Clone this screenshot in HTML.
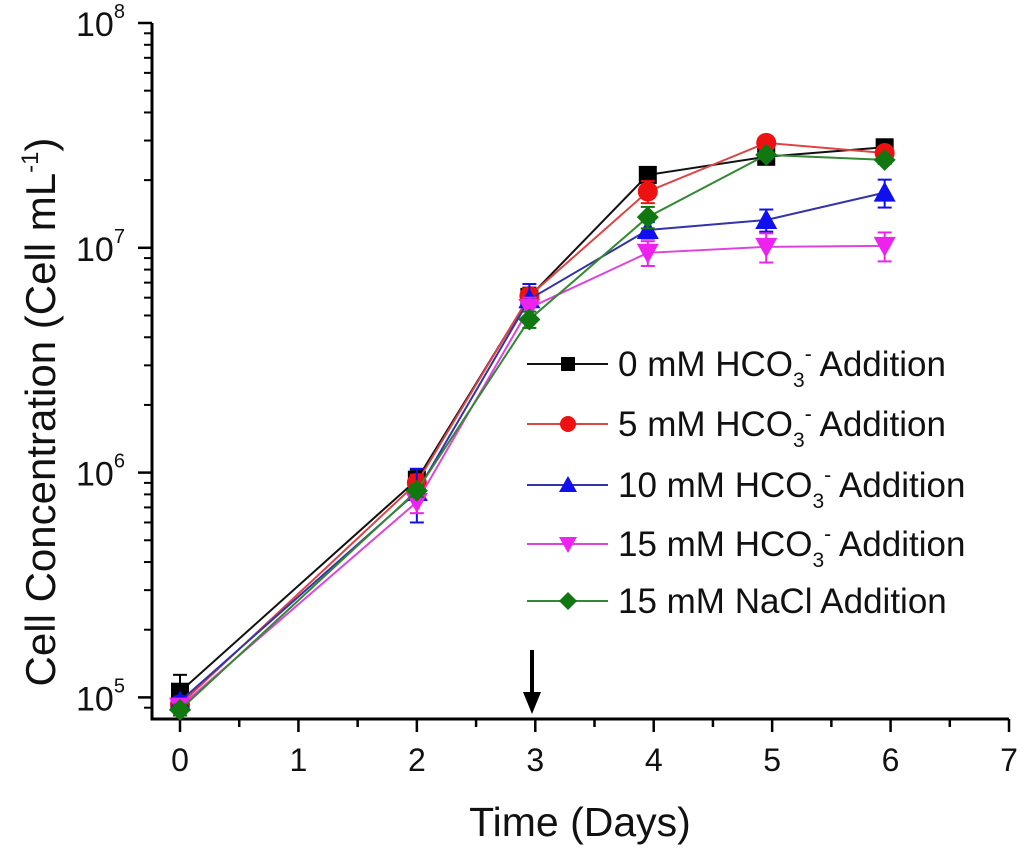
<!DOCTYPE html>
<html><head><meta charset="utf-8"><style>
html,body{margin:0;padding:0;background:#fff;}
svg{display:block;font-family:"Liberation Sans",Arial,sans-serif;}
</style></head><body>
<svg id="chart" width="1024" height="851" viewBox="0 0 1024 851" xmlns="http://www.w3.org/2000/svg">
<g id="axes"></g>
<g id="series"></g>
<g id="legend"></g>
<text x="580" y="836" font-size="41" text-anchor="middle" fill="#111">Time (Days)</text>
<text transform="translate(55,412) rotate(-90)" font-size="42" text-anchor="middle" fill="#111">Cell Concentration (Cell mL<tspan font-size="24" dy="-17">-1</tspan><tspan dy="17">)</tspan></text>
<g>
<line x1="532" y1="650" x2="532" y2="700" stroke="#000" stroke-width="4"/>
<polygon points="523,692 541,692 532,714" fill="#000"/>
</g>
</svg>
<script>
const days = [0, 2, 2.95, 3.95, 4.95, 5.95];
const seriesNames = ["0 mM HCO3- Addition","5 mM HCO3- Addition","10 mM HCO3- Addition","15 mM HCO3- Addition","15 mM NaCl Addition"];
const s0 = [1.06e5, 9.3e5, 6.05e6, 2.11e7, 2.54e7, 2.8e7];
const s5 = [9.3e4, 9.0e5, 6.1e6, 1.78e7, 2.93e7, 2.64e7];
const s10 = [9.6e4, 8.2e5, 5.9e6, 1.2e7, 1.33e7, 1.76e7];
const s15 = [9.1e4, 7.4e5, 5.4e6, 9.5e6, 1.01e7, 1.02e7];
const sNaCl = [8.8e4, 8.3e5, 4.8e6, 1.37e7, 2.59e7, 2.46e7];
const err0 = [0.2e5, 1.0e5, 0.6e6, 0.1e7, 0.15e7, 0.15e7];
const err5 = [0.05e5, 0.8e5, 0.5e6, 0.2e7, 0.2e7, 0.1e7];
const err10 = [0.05e5, 2.2e5, 1.0e6, 0.1e7, 0.15e7, 0.25e7];
const err15 = [0.05e5, 0.8e5, 0.6e6, 0.12e7, 0.15e7, 0.15e7];
const errNaCl = [0.05e5, 0.5e5, 0.4e6, 0.15e7, 0.1e7, 0.1e7];
const xTicks = [0,1,2,3,4,5,6,7];
const yDecades = [5,6,7,8];

const X0=180, XS=118.43, YTOP=23, DEC=224.8;
function xs(d){return X0+d*XS;}
function ys(v){return YTOP+(8-Math.log10(v))*DEC;}
const NS="http://www.w3.org/2000/svg";
function mk(tag,attrs,parent){const e=document.createElementNS(NS,tag);for(const k in attrs)e.setAttribute(k,attrs[k]);parent.appendChild(e);return e;}

const axes=document.getElementById('axes');
let e;
e=mk('line',{x1:152,y1:YTOP,x2:152,y2:719,stroke:'#000','stroke-width':3},axes);


e=mk('line',{x1:150.5,y1:719,x2:xs(7),y2:719,stroke:'#000','stroke-width':3},axes);


xTicks.forEach(t=>{
  mk('line',{x1:xs(t),y1:719,x2:xs(t),y2:732,stroke:'#000','stroke-width':2.5},axes);
  if(t<7) mk('line',{x1:xs(t+0.5),y1:719,x2:xs(t+0.5),y2:727,stroke:'#000','stroke-width':2.5},axes);
  const tx=mk('text',{x:xs(t),y:771,'font-size':32,'text-anchor':'middle',fill:'#111'},axes);
  tx.textContent=t;
  
  
});
yDecades.forEach(d=>{
  const y=ys(Math.pow(10,d));
  mk('line',{x1:138,y1:y,x2:152,y2:y,stroke:'#000','stroke-width':2.5},axes);
  const tx=mk('text',{x:76,y:y+13,'font-size':34,fill:'#111'},axes);
  tx.innerHTML='10<tspan font-size="20" dy="-18">'+d+'</tspan>';
  
  
  if(d<8) for(let m=2;m<=9;m++){const yy=ys(m*Math.pow(10,d)); mk('line',{x1:144,y1:yy,x2:152,y2:yy,stroke:'#000','stroke-width':2},axes);}
});
for(let m=9;m<=9;m++){const yy=ys(m*1e4); if(yy<=719) mk('line',{x1:144,y1:yy,x2:152,y2:yy,stroke:'#000','stroke-width':2},axes);}

const colors=['#000','#ee1111','#1010ee','#ee22ee','#117711'];
const lineColors=['#111','#dd4444','#3333aa','#dd44dd','#338833'];
const data=[s0,s5,s10,s15,sNaCl];
const errs=[err0,err5,err10,err15,errNaCl];
const markers=['square','circle','tri','tridown','diamond'];
function marker(type,x,y,c,parent,size){
  const s=size||9;
  if(type==='square') return mk('rect',{x:x-s,y:y-s,width:2*s,height:2*s,fill:c},parent);
  if(type==='circle') return mk('circle',{cx:x,cy:y,r:s+1,fill:c},parent);
  if(type==='tri') return mk('polygon',{points:`${x},${y-s-2} ${x-s-2},${y+s} ${x+s+2},${y+s}`,fill:c},parent);
  if(type==='tridown') return mk('polygon',{points:`${x},${y+s+2} ${x-s-2},${y-s} ${x+s+2},${y-s}`,fill:c},parent);
  return mk('polygon',{points:`${x},${y-s-2} ${x+s+2},${y} ${x},${y+s+2} ${x-s-2},${y}`,fill:c},parent);
}
const sg=document.getElementById('series');
data.forEach((arr,i)=>{
  const g=mk('g',{},sg);
  
  
  const pts=arr.map((v,j)=>xs(days[j])+','+ys(v)).join(' ');
  mk('polyline',{points:pts,fill:'none',stroke:lineColors[i],'stroke-width':2},g);
  arr.forEach((v,j)=>{
    const x=xs(days[j]), e1=ys(v+errs[i][j]), e2=ys(v-errs[i][j]);
    mk('line',{x1:x,y1:e1,x2:x,y2:e2,stroke:colors[i],'stroke-width':2},g);
    mk('line',{x1:x-7,y1:e1,x2:x+7,y2:e1,stroke:colors[i],'stroke-width':2},g);
    mk('line',{x1:x-7,y1:e2,x2:x+7,y2:e2,stroke:colors[i],'stroke-width':2},g);
    const m=marker(markers[i],x,ys(v),colors[i],g);
    
    
  });
});

const lg=document.getElementById('legend');
const legY=[364,424,485,544,601];
seriesNames.forEach((n,i)=>{
  const g=mk('g',{},lg);
  
  
  const y=legY[i];
  mk('line',{x1:527,y1:y,x2:608,y2:y,stroke:lineColors[i],'stroke-width':2},g);
  marker(markers[i],568,y,colors[i],g,7);
  const t=mk('text',{x:618,y:y+12,'font-size':35,fill:'#111'},g);
  if(n.indexOf('HCO3')>=0){
    const pre=n.split(' HCO3-')[0];
    t.innerHTML=pre+' HCO<tspan font-size="21" dy="11">3</tspan><tspan font-size="21" dy="-26">-</tspan><tspan dy="15"> Addition</tspan>';
  } else t.textContent=n;
});
</script>
</body></html>
